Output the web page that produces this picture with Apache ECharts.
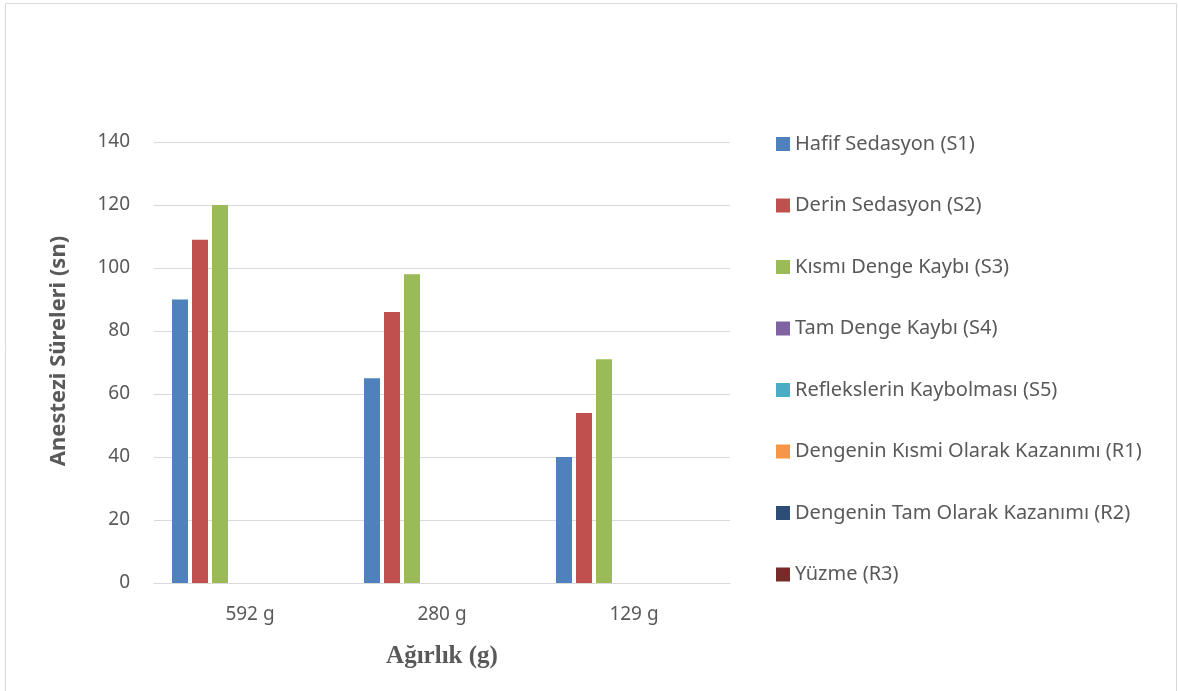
<!DOCTYPE html>
<html>
<head>
<meta charset="utf-8">
<script src="https://cdn.jsdelivr.net/npm/echarts@6/dist/echarts.min.js"></script>
<style>
  html, body { margin: 0; padding: 0; background: #fff; }
  #chart { width: 1178px; height: 691px; }
</style>
</head>
<body>
<div id="chart"></div>
<script>
// Ağırlık grupları ve evrelere göre anestezi süreleri (sn)
const categories = ['592 g', '280 g', '129 g'];
const seriesNames = [
  'Hafif Sedasyon (S1)',
  'Derin Sedasyon (S2)',
  'Kısmı Denge Kaybı (S3)',
  'Tam Denge Kaybı (S4)',
  'Reflekslerin Kaybolması (S5)',
  'Dengenin Kısmi Olarak Kazanımı (R1)',
  'Dengenin Tam Olarak Kazanımı (R2)',
  'Yüzme (R3)'
];
const s1 = [90, 65, 40];
const s2 = [109, 86, 54];
const s3 = [120, 98, 71];
const s4 = [0, 0, 0];
const s5 = [0, 0, 0];
const r1 = [0, 0, 0];
const r2 = [0, 0, 0];
const r3 = [0, 0, 0];
const seriesValues = [s1, s2, s3, s4, s5, r1, r2, r3];
const colors = ['#4f81bd', '#c0504d', '#9bbb59', '#8064a2', '#4bacc6', '#f79646', '#2c4d75', '#772c2a'];
const yTicks = { min: 0, max: 140, interval: 20 };
const yTitle = 'Anestezi Süreleri (sn)';
const xTitle = 'Ağırlık (g)';

const textColor = '#595959';
const font = 'Noto Sans';

const chart = echarts.init(document.getElementById('chart'), null, { renderer: 'canvas' });

chart.setOption({
  animation: false,
  color: colors,
  graphic: [
    {
      type: 'rect',
      shape: { x: 5.5, y: 3.5, width: 1171, height: 700 },
      style: { fill: 'none', stroke: '#d9d9d9', lineWidth: 1 },
      silent: true
    },
    {
      // vertical axis title, rotated
      type: 'text',
      x: 59,
      y: 351,
      rotation: Math.PI / 2,
      style: {
        text: yTitle,
        fontFamily: font,
        fontWeight: 'bold',
        fontSize: 22,
        fill: textColor,
        align: 'center',
        verticalAlign: 'middle'
      },
      silent: true
    }
  ],
  grid: { left: 154, right: 448, top: 142, bottom: 108 },
  legend: {
    orient: 'vertical',
    left: 776,
    top: 134,
    padding: 0,
    icon: 'rect',
    itemWidth: 14,
    itemHeight: 14,
    itemGap: 41.5,
    textStyle: { fontFamily: font, fontSize: 20, color: textColor, lineHeight: 20 },
    data: seriesNames
  },
  xAxis: {
    type: 'category',
    data: categories,
    name: xTitle,
    nameLocation: 'middle',
    nameGap: 61,
    nameTextStyle: { fontFamily: 'Liberation Serif', fontWeight: 'bold', fontSize: 25, color: textColor },
    axisLine: { lineStyle: { color: '#d9d9d9', width: 1 } },
    axisTick: { show: false },
    axisLabel: { fontFamily: font, fontSize: 19, color: textColor, margin: 22 }
  },
  yAxis: {
    type: 'value',
    min: yTicks.min,
    max: yTicks.max,
    interval: yTicks.interval,
    axisLine: { show: false },
    axisTick: { show: false },
    axisLabel: { fontFamily: font, fontSize: 19, color: textColor, margin: 24, padding: [3, 0, 0, 0] },
    splitLine: { lineStyle: { color: '#d9d9d9', width: 1 } }
  },
  series: seriesNames.map((name, i) => ({
    name: name,
    type: 'bar',
    data: seriesValues[i],
    barWidth: 16,
    barGap: '25%',
    itemStyle: { color: colors[i] }
  }))
});
</script>
</body>
</html>
